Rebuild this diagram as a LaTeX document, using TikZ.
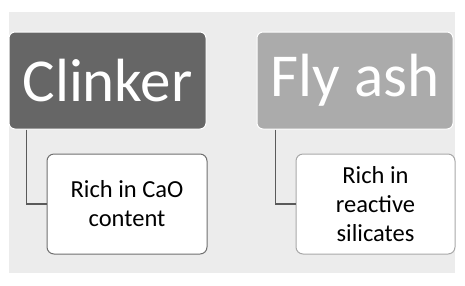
\documentclass[tikz,border=0pt]{standalone}
\usepackage{fontspec}
\setmainfont{Carlito}
\definecolor{bggray}{HTML}{ECECEC}
\definecolor{darkbox}{HTML}{666666}
\definecolor{lightbox}{HTML}{ABABAB}
\definecolor{linegray}{HTML}{5A5A5A}
\definecolor{bordA}{HTML}{707070}
\definecolor{bordB}{HTML}{A8A8A8}
\begin{document}
\begin{tikzpicture}[x=1pt,y=-1pt,
  topbox/.style={draw=white,line width=1pt,rounded corners=6pt,minimum width=197pt,minimum height=97pt,inner sep=0pt,text=white,font=\fontsize{61}{66}\selectfont},
  childbox/.style={fill=white,line width=1pt,rounded corners=7pt,minimum width=160pt,minimum height=100pt,inner sep=0pt,align=center,font=\fontsize{24.5}{29}\selectfont},
  conn/.style={draw=linegray,line width=1.3pt}]
\useasboundingbox (0,0) rectangle (465,285);
\fill[white] (0,0) rectangle (465,285);
\fill[bggray] (9,12) rectangle (455,273);
\node[topbox,fill=darkbox] (clinker) at (107.5,80.5) {Clinker};
\node[topbox,fill=lightbox,minimum width=196pt] (flyash) at (355,80.5) {Fly ash};
\node[childbox,draw=bordA] (cao) at (127,204) {Rich in CaO\\content};
\node[childbox,draw=bordB,minimum width=159pt] (sil) at (375.5,204) {Rich in\\reactive\\silicates};
\draw[conn] ([xshift=18pt]clinker.south west) |- (cao.west);
\draw[conn] ([xshift=19pt]flyash.south west) |- (sil.west);
\end{tikzpicture}
\end{document}
